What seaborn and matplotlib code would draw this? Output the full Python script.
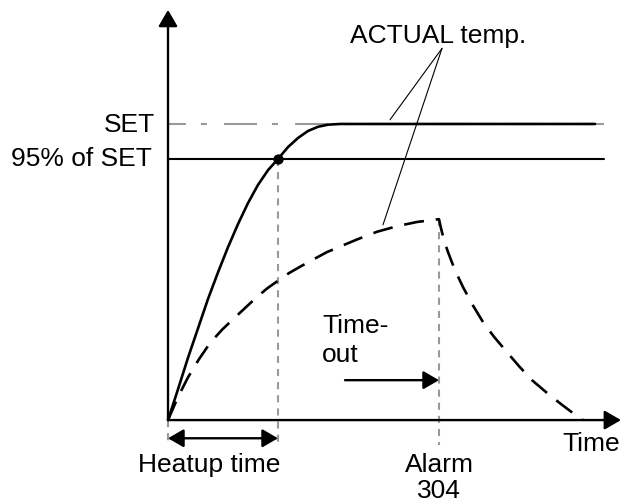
import matplotlib
matplotlib.use("Agg")
import matplotlib.pyplot as plt
import seaborn as sns
import pandas as pd

# --- chart values -------------------------------------------------------
# time in minutes, temperature in degrees (SET = 100, start at ambient)
T_AMB = 57.7
SET = 100.0
PCT95 = 95.0
HEATUP_T = 11.0
ALARM_T = 27.1
ALARM_LABEL = "304"

# heating curve that reaches the set point
ok_time = [0.0, 1.0, 2.0, 3.0, 4.0, 5.0, 6.0, 7.0, 8.0, 9.0, 10.0, 11.0,
           12.0, 13.0, 14.0, 15.0, 16.0, 17.2, 42.7]
ok_temp = [57.7, 62.1, 66.6, 70.8, 75.0, 78.8, 82.4, 85.7, 88.7, 91.3, 93.4,
           95.0, 96.7, 98.0, 99.0, 99.6, 99.9, 100.0, 100.0]

# slow heating curve that triggers the time-out alarm, then cools down
slow_time = [0.0, 1.0, 2.0, 3.1, 4.2, 5.4, 6.5, 7.7, 8.9, 10.0, 11.0, 12.1,
             13.2, 14.6, 15.9, 17.4, 18.9, 20.9, 22.9, 24.9, 27.1,
             27.3, 27.6, 28.0, 28.7, 29.5, 30.4, 31.5, 32.6, 33.9, 35.1,
             36.4, 37.8, 39.2, 40.4, 41.5]
slow_temp = [57.7, 61.0, 63.8, 66.4, 68.7, 70.6, 72.1, 73.7, 75.3, 76.6, 77.6,
             78.7, 79.6, 80.7, 81.7, 82.6, 83.5, 84.6, 85.4, 86.0, 86.4,
             85.1, 83.4, 81.7, 79.1, 76.7, 74.3, 71.7, 69.6, 67.4, 65.4,
             63.4, 61.7, 60.1, 58.8, 57.7]

ok_df = pd.DataFrame({"time": ok_time, "temp": ok_temp})
slow_df = pd.DataFrame({"time": slow_time, "temp": slow_temp})

# --- figure ---------------------------------------------------------------
sns.set_theme(style="white")
plt.rcParams["font.family"] = ["Liberation Sans", "DejaVu Sans"]
plt.rcParams["text.color"] = "black"

fig = plt.figure(figsize=(6.22, 5.04), dpi=100)
ax = fig.add_axes([0, 0, 1, 1])
ax.set_xlim(-16.8, 45.4)
ax.set_ylim(45.71, 117.71)
ax.set_axis_off()

FS = 19
GRAY = "#999999"
gray_dash = (0, (3.4, 2.9))

# reference levels
ax.plot([0, 43.6], [SET, SET], color=GRAY, lw=1.5,
        linestyle=(7.2, (15.8, 7.2, 2.9, 8.2)), zorder=1)
ax.plot([0, 43.6], [PCT95, PCT95], color="black", lw=1.5, zorder=2)

# vertical guide lines
ax.plot([HEATUP_T, HEATUP_T], [PCT95, 54.1], color=GRAY, lw=1.5,
        linestyle=gray_dash, zorder=1)
ax.plot([ALARM_T, ALARM_T], [86.4, 54.1], color=GRAY, lw=1.5,
        linestyle=gray_dash, zorder=1)
ax.plot([0, 0], [T_AMB, 54.1], color=GRAY, lw=1.5,
        linestyle=gray_dash, zorder=1)

# temperature curves
sns.lineplot(data=ok_df, x="time", y="temp", ax=ax, color="black", lw=1.9,
             sort=False, estimator=None, zorder=3)
sns.lineplot(data=slow_df, x="time", y="temp", ax=ax, color="black", lw=1.9,
             sort=False, estimator=None, linestyle=(0, (7.6, 4.5)), zorder=3)
sns.scatterplot(x=[HEATUP_T], y=[PCT95], ax=ax, color="black", s=55,
                edgecolor="black", linewidth=0, zorder=4)

# axes drawn as arrows
def arrow(x0, y0, x1, y1, lw=1.7, hl=1.0, hw=0.58, style="-|>"):
    ax.annotate("", xy=(x1, y1), xytext=(x0, y0),
                arrowprops=dict(arrowstyle=f"{style},head_length={hl},head_width={hw}",
                                mutation_scale=10, lw=lw, color="black",
                                shrinkA=0, shrinkB=0), zorder=5)

arrow(0, T_AMB, 0, 116.3)
arrow(0, T_AMB, 45.3, T_AMB)
arrow(0, 55.1, HEATUP_T, 55.1, lw=1.7, hl=0.95, hw=0.55, style="<|-|>")
arrow(17.7, 63.4, ALARM_T, 63.4, lw=1.7, hl=0.95, hw=0.55)

# callout for the curves
ax.plot([27.4, 22.2], [110.8, 100.6], color="black", lw=0.8)
ax.plot([27.4, 21.5], [110.8, 85.6], color="black", lw=0.8)

# labels
ax.text(27.0, 111.6, "ACTUAL temp.", fontsize=FS, ha="center", va="baseline")
ax.text(-1.3, 98.8, "SET", fontsize=FS, ha="right", va="baseline")
ax.text(-1.6, 94.0, "95% of SET", fontsize=FS, ha="right", va="baseline")
ax.text(15.4, 70.1, "Time-", fontsize=FS, ha="left", va="baseline")
ax.text(15.4, 66.0, "out", fontsize=FS, ha="left", va="baseline")
ax.text(4.1, 50.3, "Heatup time", fontsize=FS, ha="center", va="baseline")
ax.text(ALARM_T, 50.3, "Alarm", fontsize=FS, ha="center", va="baseline")
ax.text(ALARM_T, 46.6, ALARM_LABEL, fontsize=FS, ha="center", va="baseline")
ax.text(45.2, 53.3, "Time", fontsize=FS, ha="right", va="baseline")

fig.savefig("out.png", dpi=100, facecolor="white")
